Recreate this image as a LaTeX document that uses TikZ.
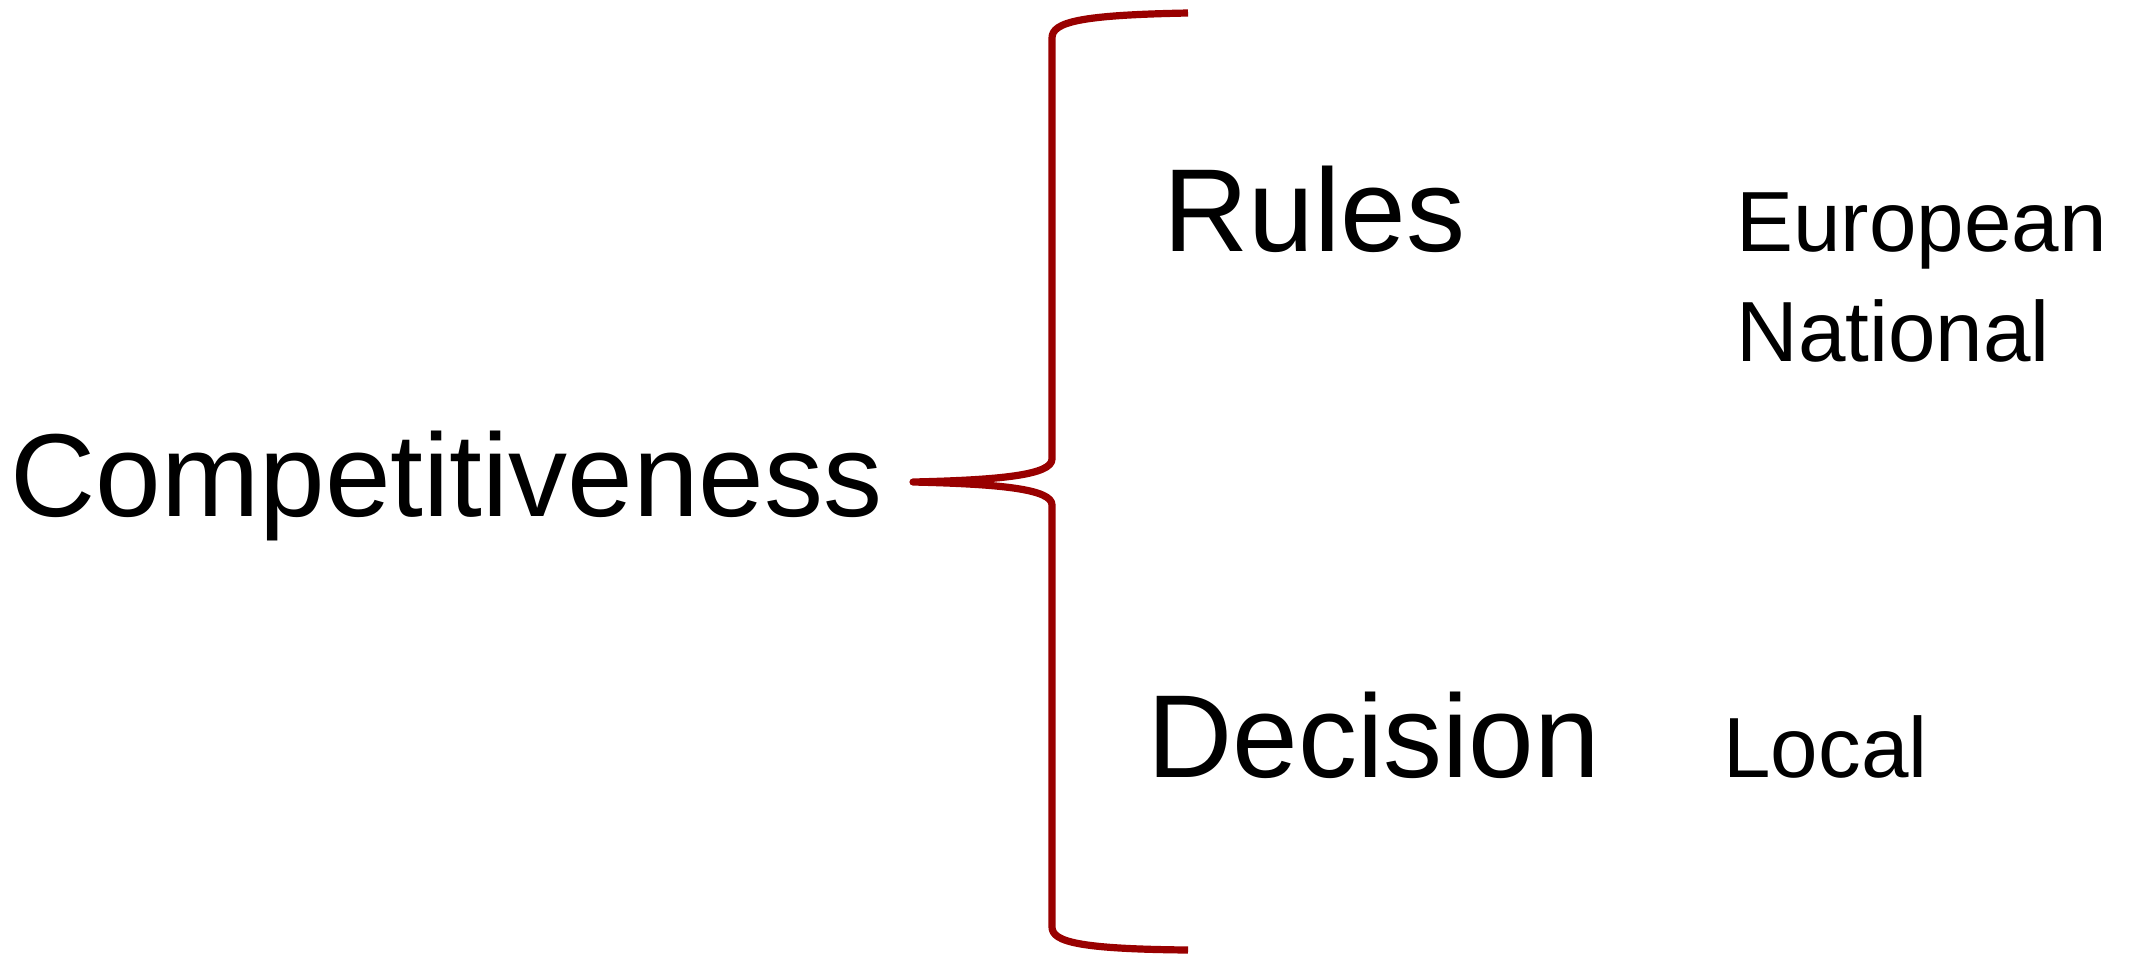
\documentclass[tikz,border=0pt]{standalone}
\usepackage{fontspec}
\setmainfont{Liberation Sans}
\definecolor{bracered}{HTML}{990000}
\tikzset{
  bigtxt/.style={inner sep=0pt, anchor=base west, font=\fontsize{59}{70}\selectfont},
  smalltxt/.style={inner sep=0pt, anchor=base west, font=\fontsize{42.7}{52}\selectfont},
  bracestyle/.style={draw=bracered, line width=3.6pt, line cap=butt, line join=round}
}
\begin{document}
\begin{tikzpicture}[x=0.5pt,y=-0.5pt]
\useasboundingbox (0,0) rectangle (2129,954);
% texts
\node[bigtxt] (comp) at (10,516) {Competitiveness};
\node[bigtxt] (rules) at (1163,251) {Rules};
\node[bigtxt] (dec) at (1147,777) {Decision};
\node[smalltxt] (eu) at (1736,251) {European};
\node[smalltxt] (nat) at (1736,361) {National};
\node[smalltxt] (loc) at (1723,777) {Local};
% brace
\coordinate (btop) at (1188,13);
\coordinate (btip) at (913,482);
\coordinate (bbot) at (1188,950);
\draw[bracestyle] (btop) .. controls (1080,15) and (1052,22) .. (1052,38)
  -- (1052,459) .. controls (1052,475) and (1000,480) .. (btip)
  .. controls (1000,484) and (1052,489) .. (1052,505)
  -- (1052,927) .. controls (1052,942) and (1080,949) .. (bbot);
\end{tikzpicture}
\end{document}
